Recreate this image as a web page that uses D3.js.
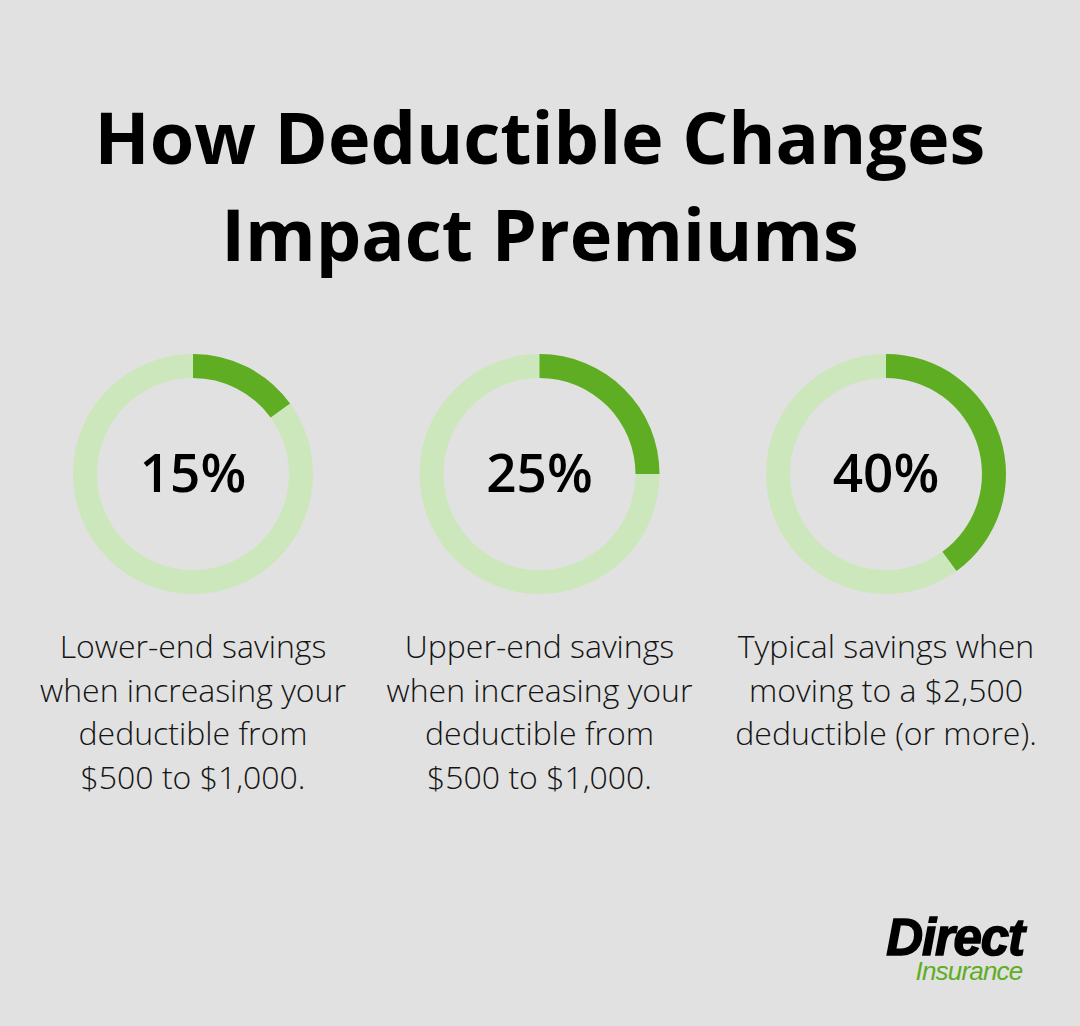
<!DOCTYPE html>
<html><head><meta charset="utf-8">
<script src="https://cdn.jsdelivr.net/npm/d3@7"></script>
<style>
html,body{margin:0;padding:0;background:#e0e1e0;}
svg{display:block;}
</style></head>
<body>
<svg id="chart" width="1080" height="1026"></svg>
<script>
const titleLines = ["How Deductible Changes", "Impact Premiums"];
const percents = [15, 25, 40];
const labels = ["15%", "25%", "40%"];
const descriptions = [
  ["Lower-end savings", "when increasing your", "deductible from", "$500 to $1,000."],
  ["Upper-end savings", "when increasing your", "deductible from", "$500 to $1,000."],
  ["Typical savings when", "moving to a $2,500", "deductible (or more)."]
];

const svg = d3.select("#chart");
const W = 1080, H = 1026;
svg.append("rect").attr("width", W).attr("height", H).attr("fill", "#e0e1e0");

const title = svg.append("text")
  .attr("text-anchor", "middle")
  .attr("font-family", "'Open Sans', sans-serif")
  .attr("font-weight", 700)
  .attr("font-size", 72)
  .attr("fill", "#000");
titleLines.forEach((t, i) => {
  title.append("tspan").attr("x", 540).attr("y", 164 + i * 97).text(t);
});

const x = d3.scalePoint().domain(d3.range(percents.length)).range([193, 886]);
const cy = 474;
const angle = d3.scaleLinear().domain([0, 100]).range([0, 2 * Math.PI]);
const arc = d3.arc().innerRadius(96).outerRadius(120);

const g = svg.selectAll("g.donut").data(percents).join("g")
  .attr("class", "donut")
  .attr("transform", (d, i) => `translate(${x(i)},${cy})`);

g.append("path")
  .attr("d", arc({startAngle: 0, endAngle: 2 * Math.PI}))
  .attr("fill", "#cde7bc");
g.append("path")
  .attr("d", d => arc({startAngle: 0, endAngle: angle(d)}))
  .attr("fill", "#5fad22");
g.append("text")
  .attr("text-anchor", "middle")
  .attr("y", 18)
  .attr("font-family", "'Open Sans', sans-serif")
  .attr("font-weight", 600)
  .attr("font-size", 53)
  .attr("fill", "#000")
  .text((d, i) => labels[i]);

const desc = svg.selectAll("text.desc").data(descriptions).join("text")
  .attr("class", "desc")
  .attr("text-anchor", "middle")
  .attr("font-family", "'Open Sans', sans-serif")
  .attr("font-weight", 300)
  .attr("font-size", 32)
  .attr("fill", "#141414");
desc.each(function(lines, i) {
  d3.select(this).selectAll("tspan").data(lines).join("tspan")
    .attr("x", x(i))
    .attr("y", (l, j) => 658 + j * 43.7)
    .text(l => l);
});

// Logo
svg.append("text")
  .attr("x", 955).attr("y", 955)
  .attr("text-anchor", "middle")
  .attr("font-family", "'Liberation Sans', Arial, sans-serif")
  .attr("font-weight", 700)
  .attr("font-style", "italic")
  .attr("font-size", 51)
  .attr("letter-spacing", -1.2)
  .attr("stroke", "#000").attr("stroke-width", 1.5)
  .attr("fill", "#000")
  .text("Direct");
svg.append("text")
  .attr("x", 969).attr("y", 980)
  .attr("text-anchor", "middle")
  .attr("font-family", "'Liberation Sans Narrow', 'Liberation Sans', sans-serif")
  .attr("font-style", "italic")
  .attr("font-size", 26)
  .attr("letter-spacing", -0.8)
  .attr("fill", "#5fad22")
  .text("Insurance");
</script>
</body></html>
